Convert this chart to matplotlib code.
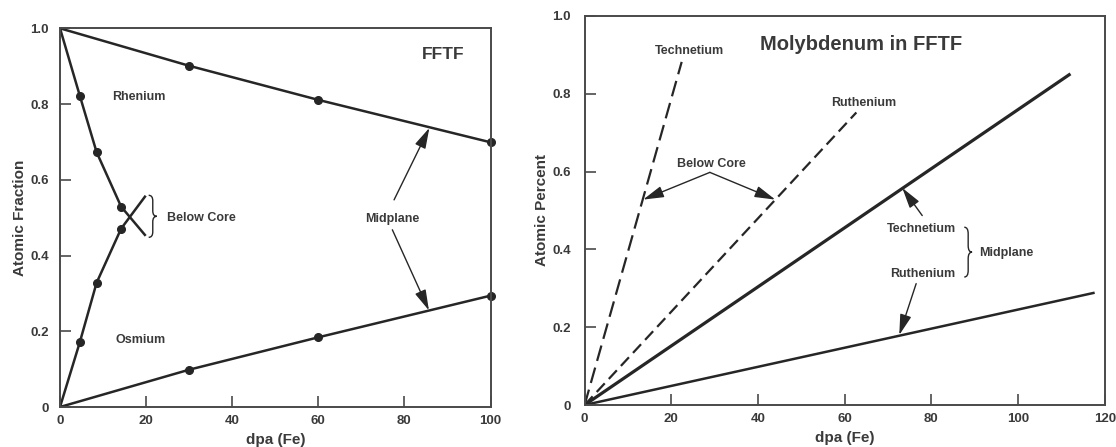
import matplotlib
matplotlib.use("Agg")
import matplotlib.pyplot as plt
from matplotlib.path import Path
from matplotlib.patches import PathPatch

plt.rcParams['font.family'] = ['Liberation Sans', 'DejaVu Sans']
plt.rcParams['font.weight'] = 'bold'
plt.rcParams['lines.scale_dashes'] = False

# ---------------- data: left panel (rhenium transmutation, FFTF) ----------------
below_x = [0, 4.6, 8.5, 14.2, 19.9]
below_re = [1.0, 0.822, 0.673, 0.529, 0.452]
below_os = [0.0, 0.171, 0.328, 0.471, 0.558]
below_marker_idx = [1, 2, 3]

mid_x = [0, 30, 60, 100]
mid_re = [1.0, 0.901, 0.811, 0.699]
mid_os = [0.0, 0.0985, 0.184, 0.294]
mid_marker_idx = [1, 2, 3]

left_xticks = [0, 20, 40, 60, 80, 100]
left_yticks = [0, 0.2, 0.4, 0.6, 0.8, 1.0]
left_yticklabels = ['0', '0.2', '0.4', '0.6', '0.8', '1.0']

# ---------------- data: right panel (molybdenum transmutation) ----------------
tc_below_x = [0, 22.4]
tc_below_y = [0, 0.882]
ru_below_x = [0, 62.7]
ru_below_y = [0, 0.752]
tc_mid_x = [0, 111.8]
tc_mid_y = [0, 0.849]
ru_mid_x = [0, 117.4]
ru_mid_y = [0, 0.288]

right_xticks = [0, 20, 40, 60, 80, 100, 120]
right_yticks = [0, 0.2, 0.4, 0.6, 0.8, 1.0]
right_yticklabels = ['0', '0.2', '0.4', '0.6', '0.8', '1.0']

LINE = '#262626'
SPINE = '#4a4a4a'
TXT = '#3a3a3a'

fig = plt.figure(figsize=(11.16, 4.47), dpi=100)
axL = fig.add_axes([60 / 1116, 40 / 447, 430.5 / 1116, 378.7 / 447])
axR = fig.add_axes([584.6 / 1116, 42 / 447, 520.1 / 1116, 389 / 447])


def style(ax, xt, yt, ytl, xmax, ypad):
    ax.set_xlim(0, xmax)
    ax.set_ylim(0, 1.0)
    ax.set_xticks(xt)
    ax.set_xticklabels([str(v) for v in xt])
    ax.set_yticks(yt)
    ax.set_yticklabels(ytl)
    ax.tick_params(direction='in', length=8, width=1.2, color=SPINE,
                   labelsize=9.5, labelcolor=TXT)
    ax.tick_params(axis='y', pad=ypad)
    ax.tick_params(axis='x', pad=6)
    for s in ax.spines.values():
        s.set_color(SPINE)
        s.set_linewidth(1.4)
    ax.set_xlabel('dpa (Fe)', fontsize=11, fontweight='bold', color=TXT, labelpad=4)


def brace(ax, x0, yb, yt, w, lw=1.0):
    ym = (yb + yt) / 2.0
    d = (yt - yb) * 0.13
    xm = x0 + w / 2.0
    verts = [(x0, yt), (xm, yt), (xm, yt - d),
             (xm, ym + d), (xm, ym), (x0 + w, ym),
             (xm, ym), (xm, ym - d),
             (xm, yb + d), (xm, yb), (x0, yb)]
    codes = [Path.MOVETO, Path.CURVE3, Path.CURVE3,
             Path.LINETO, Path.CURVE3, Path.CURVE3,
             Path.CURVE3, Path.CURVE3,
             Path.LINETO, Path.CURVE3, Path.CURVE3]
    ax.add_patch(PathPatch(Path(verts, codes), fill=False, lw=lw, color=LINE))


def arrow(ax, start, tip):
    ax.annotate('', xy=tip, xytext=start,
                arrowprops=dict(arrowstyle='-|>,head_length=0.9,head_width=0.25',
                                lw=1.0, color=LINE, mutation_scale=14,
                                shrinkA=0, shrinkB=0))


# ---------------- left panel ----------------
style(axL, left_xticks, left_yticks, left_yticklabels, 100, 8)
axL.set_ylabel('Atomic Fraction', fontsize=11, fontweight='bold', color=TXT, labelpad=2)

for ys in (below_re, below_os):
    axL.plot(below_x, ys, color=LINE, lw=1.8, solid_capstyle='butt')
    axL.plot([below_x[i] for i in below_marker_idx], [ys[i] for i in below_marker_idx],
             'o', color=LINE, ms=5.5)
for ys in (mid_re, mid_os):
    axL.plot(mid_x, ys, color=LINE, lw=1.8)
    axL.plot([mid_x[i] for i in mid_marker_idx], [ys[i] for i in mid_marker_idx],
             'o', color=LINE, ms=5.5, clip_on=False)

axL.text(89.0, 0.93, 'FFTF', fontsize=12.5, fontweight='bold', color=TXT,
         ha='center', va='center')
axL.text(18.4, 0.819, 'Rhenium', fontsize=9, color=TXT, ha='center', va='center')
axL.text(18.6, 0.177, 'Osmium', fontsize=9, color=TXT, ha='center', va='center')
axL.text(24.8, 0.498, 'Below Core', fontsize=9, color=TXT, ha='left', va='center')
brace(axL, 20.6, 0.448, 0.559, 1.9)
axL.text(77.2, 0.497, 'Midplane', fontsize=9, color=TXT, ha='center', va='center')
arrow(axL, (77.6, 0.547), (85.8, 0.737))
arrow(axL, (77.2, 0.468), (85.7, 0.255))

# ---------------- right panel ----------------
style(axR, right_xticks, right_yticks, right_yticklabels, 120, 10)
axR.set_ylabel('Atomic Percent', fontsize=11, fontweight='bold', color=TXT, labelpad=2)

axR.plot(tc_below_x, tc_below_y, color=LINE, lw=1.6, dashes=(11.5, 5))
axR.plot(ru_below_x, ru_below_y, color=LINE, lw=1.6, dashes=(8.5, 4.3))
axR.plot(tc_mid_x, tc_mid_y, color=LINE, lw=2.3)
axR.plot(ru_mid_x, ru_mid_y, color=LINE, lw=1.8)

axR.text(63.9, 0.927, 'Molybdenum in FFTF', fontsize=14.5, fontweight='bold',
         color=TXT, ha='center', va='center')
axR.text(24.3, 0.909, 'Technetium', fontsize=9, color=TXT, ha='center', va='center')
axR.text(64.5, 0.776, 'Ruthenium', fontsize=9, color=TXT, ha='center', va='center')
axR.text(29.3, 0.62, 'Below Core', fontsize=9, color=TXT, ha='center', va='center')
arrow(axR, (28.9, 0.598), (13.5, 0.528))
arrow(axR, (28.9, 0.598), (44.0, 0.528))

axR.text(77.7, 0.452, 'Technetium', fontsize=9, color=TXT, ha='center', va='center')
axR.text(77.9, 0.338, 'Ruthenium', fontsize=9, color=TXT, ha='center', va='center')
arrow(axR, (77.9, 0.487), (73.3, 0.558))
arrow(axR, (76.5, 0.312), (72.6, 0.180))
brace(axR, 87.6, 0.329, 0.457, 1.8)
axR.text(91.1, 0.39, 'Midplane', fontsize=9, color=TXT, ha='left', va='center')

fig.savefig('out.png', dpi=100, facecolor='white')
